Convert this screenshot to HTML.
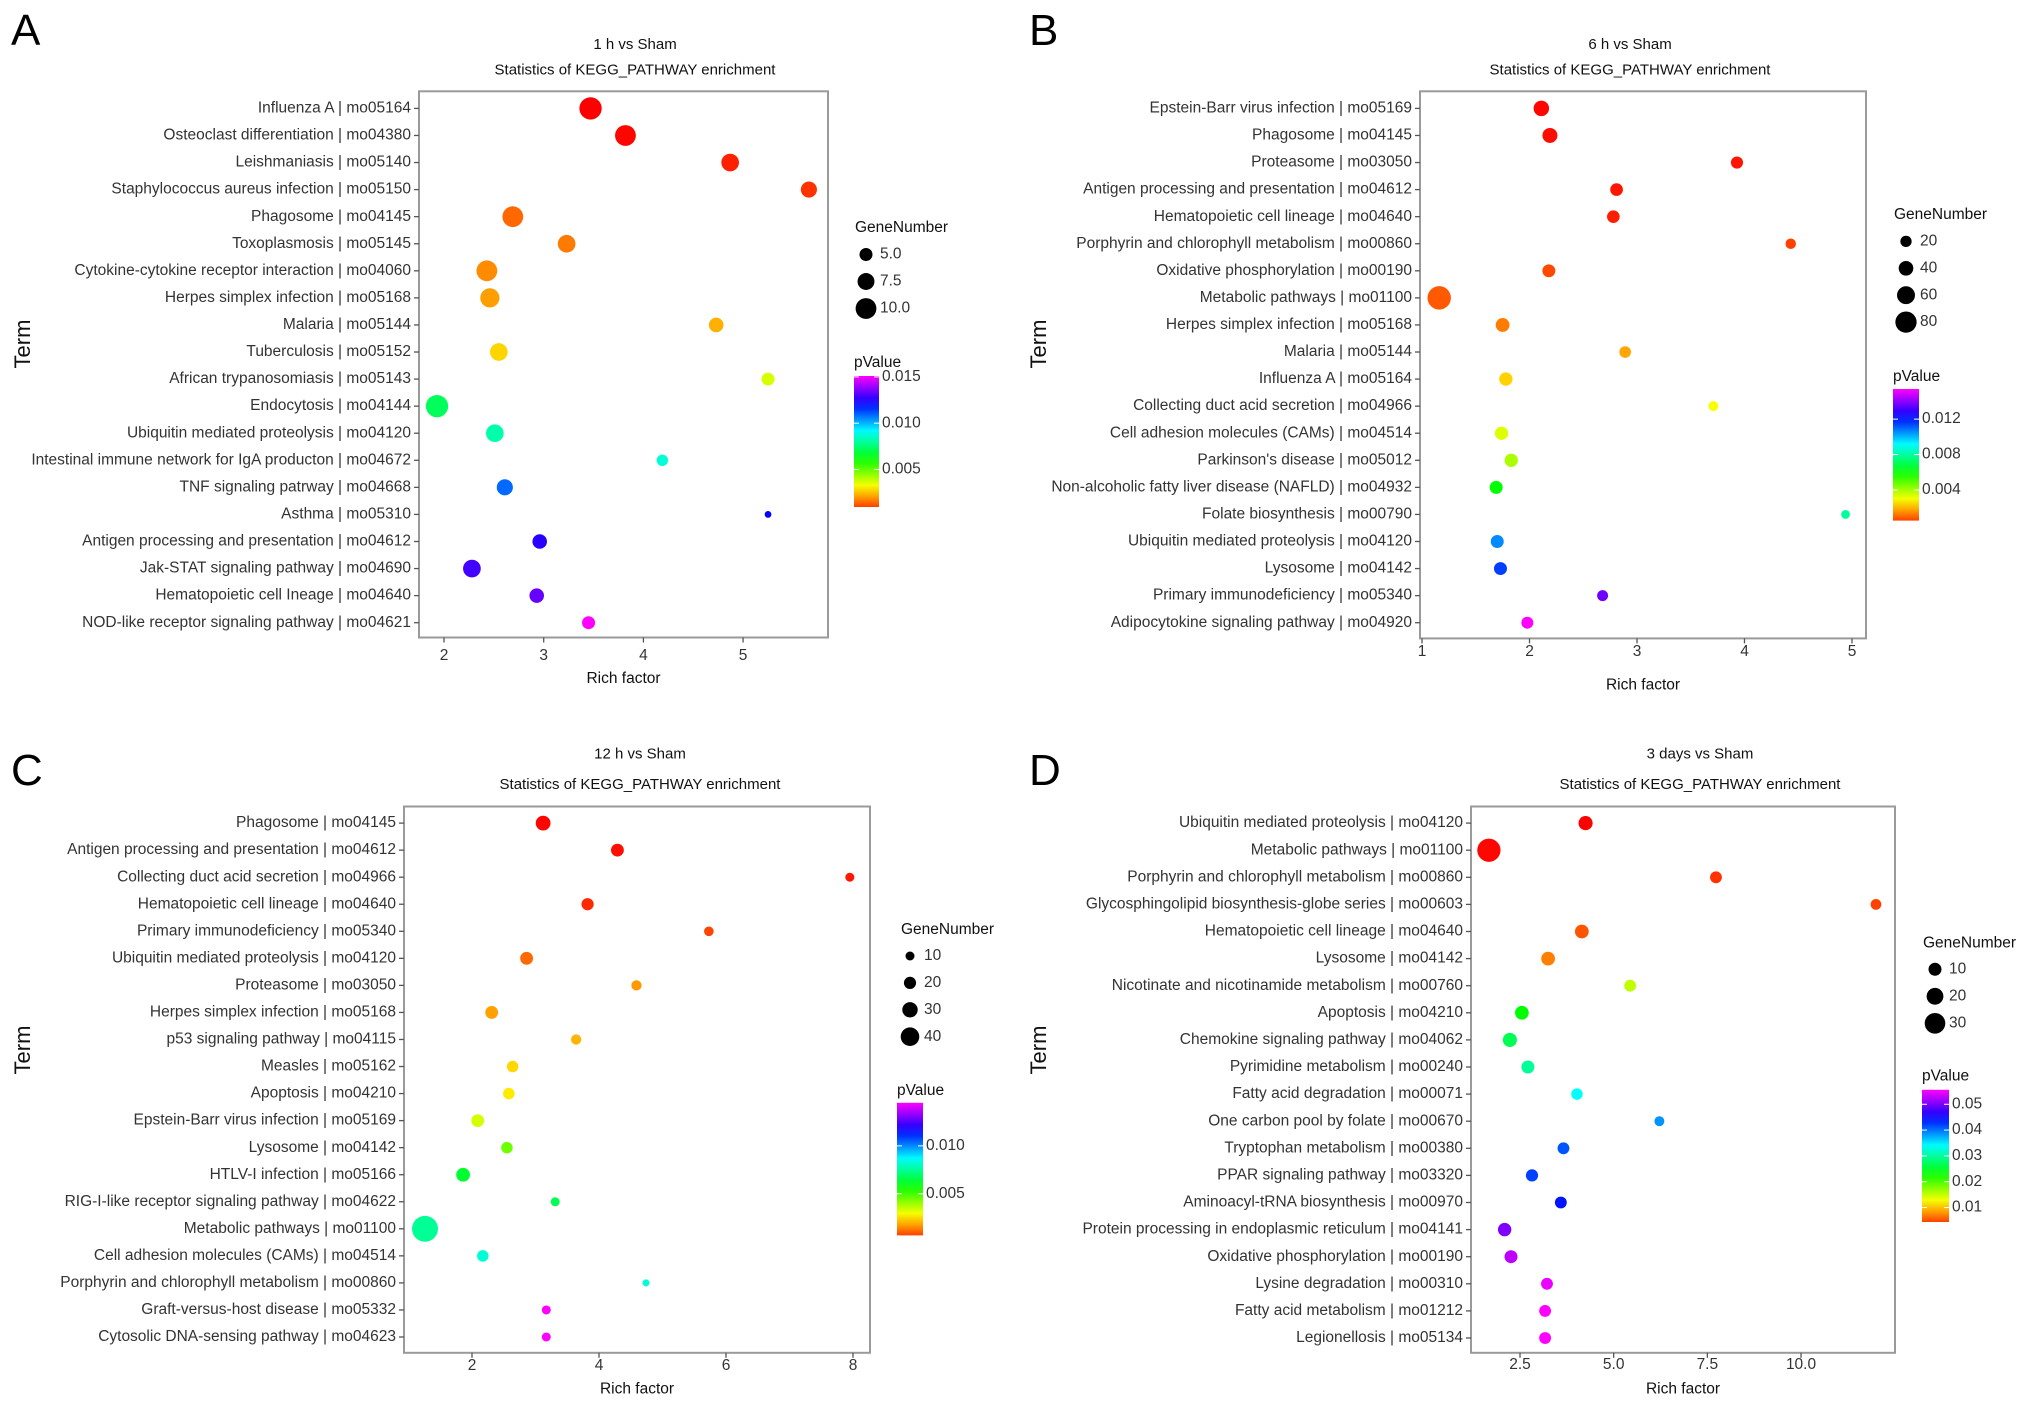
<!DOCTYPE html>
<html><head><meta charset="utf-8"><style>
html,body{margin:0;padding:0;background:#fff;}
svg{display:block;font-family:"Liberation Sans",Arial,sans-serif;}
</style></head><body>
<svg id="fig" width="2032" height="1409" viewBox="0 0 2032 1409" xmlns="http://www.w3.org/2000/svg">
<rect width="2032" height="1409" fill="#fff"/>
<defs id="defs"></defs>
</svg>
<script>
// ===== Panel A data =====
const aTerms = ["Influenza A | mo05164","Osteoclast differentiation | mo04380","Leishmaniasis | mo05140","Staphylococcus aureus infection | mo05150","Phagosome | mo04145","Toxoplasmosis | mo05145","Cytokine-cytokine receptor interaction | mo04060","Herpes simplex infection | mo05168","Malaria | mo05144","Tuberculosis | mo05152","African trypanosomiasis | mo05143","Endocytosis | mo04144","Ubiquitin mediated proteolysis | mo04120","Intestinal immune network for IgA producton | mo04672","TNF signaling patrway | mo04668","Asthma | mo05310","Antigen processing and presentation | mo04612","Jak-STAT signaling pathway | mo04690","Hematopoietic cell Ineage | mo04640","NOD-like receptor signaling pathway | mo04621"];
const aRich = [3.47,3.82,4.87,5.66,2.69,3.23,2.43,2.46,4.73,2.55,5.25,1.93,2.51,4.19,2.61,5.25,2.96,2.28,2.93,3.45];
const aGenes = [11,10,8,7,10,8,10,9,6,8,5,11,8,4,7,1,6,8,6,5];
const aPval = [.0009,.0010,.0013,.0015,.0021,.0023,.0025,.0027,.0029,.0033,.0042,.0076,.0085,.0090,.0111,.0123,.0127,.0130,.0134,.0151];
const aXTicks = [2,3,4,5];
const aXTickLabels = ["2","3","4","5"];
const aSizeVals = [5,7.5,10];
const aSizeLabels = ["5.0","7.5","10.0"];
const aPTicks = [.015,.010,.005];
const aPTickLabels = ["0.015","0.010","0.005"];

// ===== Panel B data =====
const bTerms = ["Epstein-Barr virus infection | mo05169","Phagosome | mo04145","Proteasome | mo03050","Antigen processing and presentation | mo04612","Hematopoietic cell lineage | mo04640","Porphyrin and chlorophyll metabolism | mo00860","Oxidative phosphorylation | mo00190","Metabolic pathways | mo01100","Herpes simplex infection | mo05168","Malaria | mo05144","Influenza A | mo05164","Collecting duct acid secretion | mo04966","Cell adhesion molecules (CAMs) | mo04514","Parkinson's disease | mo05012","Non-alcoholic fatty liver disease (NAFLD) | mo04932","Folate biosynthesis | mo00790","Ubiquitin mediated proteolysis | mo04120","Lysosome | mo04142","Primary immunodeficiency | mo05340","Adipocytokine signaling pathway | mo04920"];
const bRich = [2.11,2.19,3.93,2.81,2.78,4.43,2.18,1.16,1.75,2.89,1.78,3.71,1.74,1.83,1.69,4.94,1.70,1.73,2.68,1.98];
const bGenes = [45,42,25,28,28,15,30,93,35,22,32,12,32,32,30,5,30,30,18,24];
const bPval = [.0006,.0007,.0008,.0008,.0009,.0013,.0014,.0016,.0020,.0025,.0030,.0036,.0039,.0045,.0065,.0083,.0108,.0117,.0137,.0154];
const bXTicks = [1,2,3,4,5];
const bXTickLabels = ["1","2","3","4","5"];
const bSizeVals = [20,40,60,80];
const bSizeLabels = ["20","40","60","80"];
const bPTicks = [.012,.008,.004];
const bPTickLabels = ["0.012","0.008","0.004"];

// ===== Panel C data =====
const cTerms = ["Phagosome | mo04145","Antigen processing and presentation | mo04612","Collecting duct acid secretion | mo04966","Hematopoietic cell lineage | mo04640","Primary immunodeficiency | mo05340","Ubiquitin mediated proteolysis | mo04120","Proteasome | mo03050","Herpes simplex infection | mo05168","p53 signaling pathway | mo04115","Measles | mo05162","Apoptosis | mo04210","Epstein-Barr virus infection | mo05169","Lysosome | mo04142","HTLV-I infection | mo05166","RIG-I-like receptor signaling pathway | mo04622","Metabolic pathways | mo01100","Cell adhesion molecules (CAMs) | mo04514","Porphyrin and chlorophyll metabolism | mo00860","Graft-versus-host disease | mo05332","Cytosolic DNA-sensing pathway | mo04623"];
const cRich = [3.12,4.29,7.95,3.82,5.73,2.86,4.59,2.31,3.64,2.64,2.58,2.09,2.55,1.86,3.31,1.26,2.17,4.74,3.17,3.17];
const cGenes = [28,22,10,20,12,22,14,22,14,18,18,22,18,25,10,63,18,4,10,10];
const cPval = [.0007,.0008,.0009,.0011,.0014,.0018,.0023,.0024,.0026,.0030,.0032,.0039,.0050,.0067,.0071,.0078,.0085,.0085,.0145,.0145];
const cXTicks = [2,4,6,8];
const cXTickLabels = ["2","4","6","8"];
const cSizeVals = [10,20,30,40];
const cSizeLabels = ["10","20","30","40"];
const cPTicks = [.010,.005];
const cPTickLabels = ["0.010","0.005"];

// ===== Panel D data =====
const dTerms = ["Ubiquitin mediated proteolysis | mo04120","Metabolic pathways | mo01100","Porphyrin and chlorophyll metabolism | mo00860","Glycosphingolipid biosynthesis-globe series | mo00603","Hematopoietic cell lineage | mo04640","Lysosome | mo04142","Nicotinate and nicotinamide metabolism | mo00760","Apoptosis | mo04210","Chemokine signaling pathway | mo04062","Pyrimidine metabolism | mo00240","Fatty acid degradation | mo00071","One carbon pool by folate | mo00670","Tryptophan metabolism | mo00380","PPAR signaling pathway | mo03320","Aminoacyl-tRNA biosynthesis | mo00970","Protein processing in endoplasmic reticulum | mo04141","Oxidative phosphorylation | mo00190","Lysine degradation | mo00310","Fatty acid metabolism | mo01212","Legionellosis | mo05134"];
const dRich = [4.25,1.67,7.73,12.0,4.15,3.25,5.44,2.55,2.23,2.71,4.02,6.22,3.66,2.82,3.59,2.09,2.26,3.22,3.17,3.17];
const dGenes = [13,37,7,4,12,12,7,12,13,10,6,2,7,8,7,11,10,7,7,7];
const dPval = [.0044,.0047,.0064,.0070,.0078,.0095,.0172,.0249,.0283,.0309,.0351,.0394,.0420,.0428,.0445,.0505,.0530,.0548,.0556,.0556];
const dXTicks = [2.5,5,7.5,10];
const dXTickLabels = ["2.5","5.0","7.5","10.0"];
const dSizeVals = [10,20,30];
const dSizeLabels = ["10","20","30"];
const dPTicks = [.05,.04,.03,.02,.01];
const dPTickLabels = ["0.05","0.04","0.03","0.02","0.01"];

const NS = "http://www.w3.org/2000/svg";
const svg = document.getElementById('fig');
const defs = document.getElementById('defs');
function mk(tag, attrs, parent, text){
  const e = document.createElementNS(NS, tag);
  for (const k in attrs) e.setAttribute(k, attrs[k]);
  if (text !== undefined) e.textContent = text;
  (parent || svg).appendChild(e);
  return e;
}

const grad = mk('linearGradient', {id:'rainbow', x1:0, y1:1, x2:0, y2:0}, defs);
for (let i = 0; i <= 12; i++) {
  mk('stop', {offset: (i/12), 'stop-color': 'hsl(' + (15 + 285*i/12) + ',100%,50%)'}, grad);
}

function drawPanel(cfg){
  const g = mk('g', {});
  
  
  const xs = v => cfg.x0 + (v - cfg.v0) * cfg.unit;
  const n = cfg.terms.length;
  const ys = i => cfg.yTop + i * (cfg.yBot - cfg.yTop) / (n - 1);
  const rs = gn => Math.max(2.2, cfg.ra + cfg.rb * gn);
  const col = p => 'hsl(' + Math.max(0, Math.min(300, 300 * (p - cfg.pLow) / (cfg.pHigh - cfg.pLow))) + ',100%,50%)';

  const letter = mk('text', {x: cfg.lx, y: cfg.ly, 'font-size': 44, fill: '#000'}, g, cfg.letter);
  
  
  const t1 = mk('text', {x: cfg.tx, y: cfg.ty1, 'font-size': 15, 'text-anchor': 'middle', 'dominant-baseline': 'middle', fill: '#111'}, g, cfg.title);
  
  
  const t2 = mk('text', {x: cfg.tx, y: cfg.ty2, 'font-size': 15, 'text-anchor': 'middle', 'dominant-baseline': 'middle', fill: '#111'}, g, 'Statistics of KEGG_PATHWAY enrichment');
  
  

  const box = mk('rect', {x: cfg.bx1, y: cfg.by1, width: cfg.bx2 - cfg.bx1, height: cfg.by2 - cfg.by1, fill: '#fff', stroke: '#9a9a9a', 'stroke-width': 2}, g);
  
  

  for (let i = 0; i < n; i++) {
    const y = ys(i);
    mk('line', {x1: cfg.bx1 - 5, x2: cfg.bx1, y1: y, y2: y, stroke: '#555', 'stroke-width': 1.3}, g);
    const lab = mk('text', {x: cfg.bx1 - 8, y: y, 'font-size': 15.5, 'text-anchor': 'end', 'dominant-baseline': 'middle', fill: '#333'}, g, cfg.terms[i]);
    
    
  }
  for (let i = 0; i < cfg.xticks.length; i++) {
    const x = xs(cfg.xticks[i]);
    mk('line', {x1: x, x2: x, y1: cfg.by2, y2: cfg.by2 + 5, stroke: '#555', 'stroke-width': 1.3}, g);
    const tl = mk('text', {x: x, y: cfg.xtly, 'font-size': 15.5, 'text-anchor': 'middle', 'dominant-baseline': 'middle', fill: '#333'}, g, cfg.xtickLabels[i]);
    
    
  }
  const xt = mk('text', {x: (cfg.bx1 + cfg.bx2) / 2, y: cfg.xty, 'font-size': 15.5, 'text-anchor': 'middle', 'dominant-baseline': 'middle', fill: '#111'}, g, 'Rich factor');
  
  
  const yt = mk('text', {x: 0, y: 0, 'font-size': 22, 'text-anchor': 'middle', 'dominant-baseline': 'middle', fill: '#111', transform: 'translate(' + cfg.termx + ',' + cfg.termy + ') rotate(-90)'}, g, 'Term');
  
  

  for (let i = 0; i < n; i++) {
    const c = mk('circle', {cx: xs(cfg.rich[i]), cy: ys(i), r: rs(cfg.genes[i]), fill: col(cfg.pval[i])}, g);
    
    
  }

  const gt = mk('text', {x: cfg.gx, y: cfg.gy, 'font-size': 15.5, 'dominant-baseline': 'middle', fill: '#111'}, g, 'GeneNumber');
  
  
  for (let i = 0; i < cfg.sizeVals.length; i++) {
    const y = cfg.gdy0 + i * cfg.gdStep;
    const d = mk('circle', {cx: cfg.gdx, cy: y, r: rs(cfg.sizeVals[i]), fill: '#000'}, g);
    
    
    const l = mk('text', {x: cfg.gdx + 14, y: y, 'font-size': 15.5, 'dominant-baseline': 'middle', fill: '#333'}, g, cfg.sizeLabels[i]);
    
    
  }
  const pt = mk('text', {x: cfg.cbx, y: cfg.pty, 'font-size': 15.5, 'dominant-baseline': 'middle', fill: '#111'}, g, 'pValue');
  
  
  const cb = mk('rect', {x: cfg.cbx, y: cfg.cby1, width: cfg.cbw, height: cfg.cby2 - cfg.cby1, fill: 'url(#rainbow)'}, g);
  
  
  const py = p => cfg.cby2 - (p - cfg.pLow) / (cfg.pHigh - cfg.pLow) * (cfg.cby2 - cfg.cby1);
  for (let i = 0; i < cfg.pticks.length; i++) {
    const y = py(cfg.pticks[i]);
    mk('line', {x1: cfg.cbx, x2: cfg.cbx + 5, y1: y, y2: y, stroke: '#fff', 'stroke-width': 1}, g);
    mk('line', {x1: cfg.cbx + cfg.cbw - 5, x2: cfg.cbx + cfg.cbw, y1: y, y2: y, stroke: '#fff', 'stroke-width': 1}, g);
    const l = mk('text', {x: cfg.cbx + cfg.cbw + 3, y: y, 'font-size': 15.5, 'dominant-baseline': 'middle', fill: '#333'}, g, cfg.ptickLabels[i]);
    
    
  }
}

drawPanel({id:'a', letter:'A', lx:11, ly:45, title:'1 h vs Sham', tx:635, ty1:45, ty2:70.6,
  terms:aTerms, rich:aRich, genes:aGenes, pval:aPval, xticks:aXTicks, xtickLabels:aXTickLabels,
  sizeVals:aSizeVals, sizeLabels:aSizeLabels, pticks:aPTicks, ptickLabels:aPTickLabels,
  bx1:419, bx2:828, by1:91.3, by2:637.5, x0:444, v0:2, unit:99.7, yTop:108.4, yBot:622.7,
  xtly:656, xty:679, termx:24, termy:344, ra:2.6, rb:0.78,
  gx:855, gy:228, gdx:866, gdy0:254.5, gdStep:27,
  cbx:854, cby1:376, cby2:507, cbw:25, pty:363, pLow:.00094, pHigh:.0151});

drawPanel({id:'b', letter:'B', lx:1029, ly:45, title:'6 h vs Sham', tx:1630, ty1:45, ty2:70.6,
  terms:bTerms, rich:bRich, genes:bGenes, pval:bPval, xticks:bXTicks, xtickLabels:bXTickLabels,
  sizeVals:bSizeVals, sizeLabels:bSizeLabels, pticks:bPTicks, ptickLabels:bPTickLabels,
  bx1:1420, bx2:1866, by1:91.3, by2:638.4, x0:1422, v0:1, unit:107.5, yTop:108.4, yBot:622.7,
  xtly:652, xty:685.6, termx:1040, termy:344, ra:4.0, rb:0.083,
  gx:1894, gy:215, gdx:1906, gdy0:241.4, gdStep:26.9,
  cbx:1893, cby1:389, cby2:520.6, cbw:26, pty:376.8, pLow:.00055, pHigh:.0154});

drawPanel({id:'c', letter:'C', lx:11, ly:785, title:'12 h vs Sham', tx:640, ty1:754.4, ty2:785,
  terms:cTerms, rich:cRich, genes:cGenes, pval:cPval, xticks:cXTicks, xtickLabels:cXTickLabels,
  sizeVals:cSizeVals, sizeLabels:cSizeLabels, pticks:cPTicks, ptickLabels:cPTickLabels,
  bx1:404, bx2:870, by1:806.5, by2:1352.8, x0:472, v0:2, unit:63.5, yTop:823.1, yBot:1337,
  xtly:1365.8, xty:1389.6, termx:24, termy:1050, ra:2.9, rb:0.16,
  gx:901, gy:930, gdx:910, gdy0:956, gdStep:26.9,
  cbx:897, cby1:1102.8, cby2:1235.4, cbw:26, pty:1090.7, pLow:.00065, pHigh:.0145});

drawPanel({id:'d', letter:'D', lx:1029, ly:785, title:'3 days vs Sham', tx:1700, ty1:754.4, ty2:785,
  terms:dTerms, rich:dRich, genes:dGenes, pval:dPval, xticks:dXTicks, xtickLabels:dXTickLabels,
  sizeVals:dSizeVals, sizeLabels:dSizeLabels, pticks:dPTicks, ptickLabels:dPTickLabels,
  bx1:1471, bx2:1895, by1:806.5, by2:1352.8, x0:1520, v0:2.5, unit:37.47, yTop:823.1, yBot:1338,
  xtly:1365, xty:1389.6, termx:1040, termy:1050, ra:4.6, rb:0.19,
  gx:1923, gy:943.6, gdx:1935, gdy0:969.3, gdStep:27,
  cbx:1922, cby1:1089.8, cby2:1222, cbw:27, pty:1076.3, pLow:.0044, pHigh:.0556});
</script>
</body></html>
